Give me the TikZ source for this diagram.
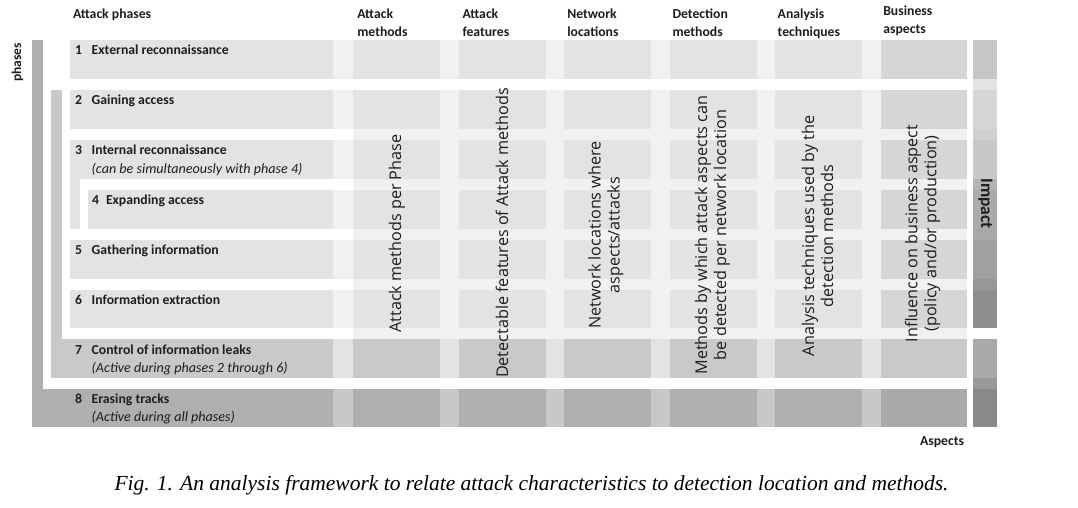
\documentclass[tikz,border=0pt]{standalone}
\usepackage{fontspec}
\setmainfont{Carlito}
\newfontfamily\rotfont{Open Sans}
\newfontfamily\capfont{Liberation Serif}
\definecolor{bandA}{HTML}{F1F1F1}
\definecolor{cellA}{HTML}{E3E3E3}
\definecolor{bizA}{HTML}{D6D6D6}
\definecolor{bandB}{HTML}{E3E3E3}
\definecolor{cellB}{HTML}{C9C9C9}
\definecolor{bandC}{HTML}{C8C8C8}
\definecolor{cellC}{HTML}{AFAFAF}
\definecolor{bizC}{HTML}{A9A9A9}
\definecolor{ink}{HTML}{1E1E1E}
\begin{document}
\begin{tikzpicture}[x=1pt,y=-1pt,
  lbl/.style={inner sep=0pt, outer sep=0pt, anchor=base west, text=ink},
  hdr/.style={lbl, font=\fontsize{13.7}{18}\selectfont\bfseries},
  phase/.style={lbl, font=\fontsize{13.7}{18}\selectfont\bfseries},
  note/.style={lbl, font=\fontsize{14.1}{18}\selectfont\itshape},
  vtext/.style={inner sep=0pt, rotate=90, align=center, text=ink,
    font=\rotfont\fontsize{16.2}{19}\selectfont}]
% canvas
\fill[white] (0,0) rectangle (1078,507);
\useasboundingbox (0,0) rectangle (1078,507);

% light field behind the aspect columns (phases 2 to 7)
\fill[bandA] (353,128.5) rectangle (967,339);

% nesting brackets: phase 8, phase 7, phase 3
\fill[cellC] (32,40) rectangle (43,388.5);
\fill[cellB] (51,90) rectangle (62,339);
\fill[cellA] (70,178.5) rectangle (80,228.5);

% phase rows: band, label cell and one cell per aspect column
\foreach \top/\lft/\bnd/\cel/\biz in {
    40/70/bandA/cellA/bizA, 90/70/bandA/cellA/bizA, 140/70/bandA/cellA/bizA,
    190/88/bandA/cellA/bizA, 240/70/bandA/cellA/bizA, 289.5/70/bandA/cellA/bizA,
    339/51/bandB/cellB/cellB, 388.5/32/bandC/cellC/bizC}{
  \fill[\bnd] (\lft,\top) rectangle (967,\top+38.5);
  \fill[\cel] (\lft,\top) rectangle (333,\top+38.5);
  \foreach \c in {0,...,4}{
    \fill[\cel] ({353+105.5*\c},\top) rectangle ++(87,38.5);
  }
  \fill[\biz] (880.5,\top) rectangle ++(86.5,38.5);
}

% impact scale
\foreach \ya/\yb/\shade in {
    40/78.5/22.4, 78.5/90/10.6, 90/128.5/16.1, 128.5/140/18.8,
    140/178.5/21.6, 178.5/190/29.4, 190/228.5/32.9, 228.5/240/34.1,
    240/278.5/37.3, 278.5/289.5/40.8, 289.5/328/44.3,
    339/377.5/34.1, 377.5/388.5/40, 388.5/427/46.3}{
  \fill[black!\shade] (973,\ya) rectangle (996.5,\yb);
}

% column headings
\node[hdr] (hPhases)   at (73,18)    {Attack phases};
\node[hdr] (hMeth)     at (357.3,18) {Attack};
\node[hdr] (hMeth2)    at (357.3,36) {methods};
\node[hdr] (hFeat)     at (462.5,18) {Attack};
\node[hdr] (hFeat2)    at (462.5,36) {features};
\node[hdr] (hLoc)      at (567.3,18) {Network};
\node[hdr] (hLoc2)     at (567.3,36) {locations};
\node[hdr] (hDet)      at (672.5,18) {Detection};
\node[hdr] (hDet2)     at (672.5,36) {methods};
\node[hdr] (hAna)      at (777.7,18) {Analysis};
\node[hdr] (hAna2)     at (777.7,36) {techniques};
\node[hdr] (hBus)      at (883.3,15) {Business};
\node[hdr] (hBus2)     at (883.3,33) {aspects};

% axis labels
\node[inner sep=0pt, rotate=90, text=ink, font=\fontsize{13.5}{16}\selectfont\bfseries]
  (axPhases) at (17.5,62.5) {phases};
\node[inner sep=0pt, rotate=-90, text=ink, font=\fontsize{17.5}{20}\selectfont\bfseries]
  (axImpact) at (985.5,203.5) {Impact};
\node[hdr, anchor=base east] (axAspects) at (964,445) {Aspects};

% phase names
\node[phase] (n1) at (75,54.8)    {1};
\node[phase] (p1) at (91.7,54.8)  {External reconnaissance};
\node[phase] (n2) at (75,104.3)   {2};
\node[phase] (p2) at (91.7,104.3) {Gaining access};
\node[phase] (n3) at (75,154.8)   {3};
\node[phase] (p3) at (91.7,154.8) {Internal reconnaissance};
\node[note]  (s3) at (91.7,173.5) {(can be simultaneously with phase 4)};
\node[phase] (n4) at (92,204.8)   {4};
\node[phase] (p4) at (106,204.8)  {Expanding access};
\node[phase] (n5) at (75,254.8)   {5};
\node[phase] (p5) at (91.7,254.8) {Gathering information};
\node[phase] (n6) at (75,304.3)   {6};
\node[phase] (p6) at (91.7,304.3) {Information extraction};
\node[phase] (n7) at (75,354)     {7};
\node[phase] (p7) at (91.7,354)   {Control of information leaks};
\node[note]  (s7) at (91.7,372.7) {(Active during phases 2 through 6)};
\node[phase] (n8) at (75,403.3)   {8};
\node[phase] (p8) at (91.7,403.3) {Erasing tracks};
\node[note]  (s8) at (91.7,421.7) {(Active during all phases)};

% aspect descriptions, written up the columns
\node[vtext] (dMeth) at (397,233.5) {Attack methods per Phase};
\node[vtext] (dFeat) at (502,233)   {Detectable features of Attack methods};
\node[vtext] (dLoc)  at (606,235)   {Network locations where\\aspects/attacks};
\node[vtext] (dDet)  at (712.5,235) {Methods by which attack aspects can\\be detected per network location};
\node[vtext] (dAna)  at (817.5,236) {Analysis techniques used by the\\detection methods};
\node[vtext] (dBus)  at (922.5,233.5){Influence on business aspect\\(policy and/or production)};

% caption
\node[inner sep=0pt, anchor=base, text=black, font=\capfont\itshape\fontsize{21.5}{24}\selectfont]
  (caption) at (531.5,490.5)
  {Fig. 1. An analysis framework to relate attack characteristics to detection location and methods.};
\end{tikzpicture}
\end{document}
